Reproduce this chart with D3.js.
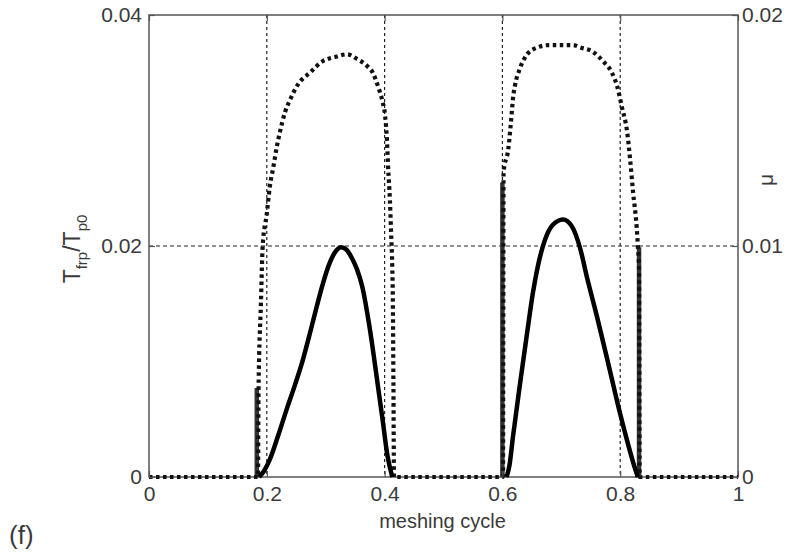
<!DOCTYPE html>
<html>
<head>
<meta charset="utf-8">
<script src="https://cdn.jsdelivr.net/npm/d3@7"></script>
<style>
  body { margin: 0; background: #fff; }
  svg text { font-family: "Liberation Sans", Arial, sans-serif; fill: #3a3a3a; }
</style>
</head>
<body>
<div id="app"></div>
<script>
// tick values
const xTicks = [0, 0.2, 0.4, 0.6, 0.8, 1];
const leftTicks = [0, 0.02, 0.04];
const rightTicks = [0, 0.01, 0.02];
const xGrid = [0.2, 0.4, 0.6, 0.8];
const yGrid = [0.02];

// T_frp / T_p0 (left axis), two meshing humps
const torqueX1 = [0.187, 0.195, 0.205, 0.220, 0.234, 0.248, 0.261, 0.273, 0.285, 0.295, 0.305, 0.315, 0.326, 0.335, 0.345, 0.353, 0.362, 0.375, 0.387, 0.397, 0.405, 0.413];
const torqueY1 = [0, 0.0005, 0.0015, 0.0037, 0.0059, 0.0080, 0.0101, 0.0124, 0.0148, 0.0167, 0.0183, 0.0194, 0.0199, 0.0197, 0.0189, 0.0180, 0.0165, 0.0128, 0.0085, 0.0048, 0.0018, 0];
const torqueX2 = [0.607, 0.612, 0.618, 0.630, 0.642, 0.652, 0.660, 0.672, 0.685, 0.703, 0.718, 0.732, 0.744, 0.761, 0.778, 0.795, 0.812, 0.826, 0.830];
const torqueY2 = [0, 0.0010, 0.0035, 0.0081, 0.0125, 0.0160, 0.0182, 0.0205, 0.0218, 0.0223, 0.0217, 0.0198, 0.0172, 0.0138, 0.0102, 0.0065, 0.0031, 0.0006, 0];

// friction coefficient mu (right axis)
const muX = [0, 0.185, 0.186, 0.190, 0.193, 0.200, 0.205, 0.211, 0.217, 0.222, 0.231, 0.239, 0.253, 0.273, 0.295, 0.319, 0.336, 0.353, 0.370, 0.380, 0.389, 0.396, 0.401, 0.404, 0.406, 0.409, 0.411, 0.413, 0.414, 0.415, 0.416,
  0.601, 0.602, 0.610, 0.616, 0.618, 0.621, 0.630, 0.642, 0.660, 0.680, 0.700, 0.720, 0.732, 0.754, 0.771, 0.786, 0.795, 0.803, 0.812, 0.817, 0.822, 0.828, 0.830, 0.832, 0.833, 1];
const muY = [0, 0, 0.0038, 0.0075, 0.0100, 0.0114, 0.01255, 0.0134, 0.0143, 0.0149, 0.0158, 0.0163, 0.0170, 0.0175, 0.0180, 0.0182, 0.0183, 0.0181, 0.0178, 0.0175, 0.0169, 0.0163, 0.0156, 0.0146, 0.0134, 0.0120, 0.0106, 0.0091, 0.0077, 0.0040, 0,
  0, 0.0132, 0.0142, 0.0158, 0.0164, 0.0169, 0.0177, 0.0183, 0.0186, 0.0187, 0.0187, 0.0187, 0.0186, 0.0184, 0.0180, 0.0175, 0.0169, 0.0160, 0.0149, 0.0137, 0.0123, 0.0108, 0.0100, 0.0090, 0, 0];

// vertical jumps at engagement changes (left axis)
const jumpX = [0.183, 0.600, 0.832];
const jumpTop = [0.0077, 0.0255, 0.0199];

const w = 787;
const h = 552;
const padL = 149, padR = 738, padT = 15, padB = 477;

const x = d3.scaleLinear().domain([0, 1]).range([padL, padR]);
const yL = d3.scaleLinear().domain([0, 0.04]).range([padB, padT]);
const yR = d3.scaleLinear().domain([0, 0.02]).range([padB, padT]);

const svg = d3.select('#app').append('svg')
  .attr('width', w)
  .attr('height', h)
  .style('background', '#fff');

// grid
svg.append('g').selectAll('line').data(xGrid).join('line')
  .attr('x1', d => x(d)).attr('x2', d => x(d))
  .attr('y1', padT).attr('y2', padB)
  .attr('stroke', '#222').attr('stroke-width', 1.2).attr('stroke-dasharray', '3,3');
svg.append('g').selectAll('line').data(yGrid).join('line')
  .attr('x1', padL).attr('x2', padR)
  .attr('y1', d => yL(d)).attr('y2', d => yL(d))
  .attr('stroke', '#222').attr('stroke-width', 1.2).attr('stroke-dasharray', '4,3');

// frame
svg.append('rect')
  .attr('x', padL).attr('y', padT)
  .attr('width', padR - padL).attr('height', padB - padT)
  .attr('fill', 'none').attr('stroke', '#555').attr('stroke-width', 1.5);

const line = d3.line().x(d => x(d[0])).curve(d3.curveMonotoneX);

// jumps
svg.append('g').selectAll('line').data(jumpX).join('line')
  .attr('x1', d => x(d)).attr('x2', d => x(d))
  .attr('y1', yL(0)).attr('y2', (d, i) => yL(jumpTop[i]))
  .attr('stroke', '#333').attr('stroke-width', 4.5);

// mu dotted
svg.append('path')
  .datum(muX.map((d, i) => [d, muY[i]]))
  .attr('d', line.y(d => yR(d[1])))
  .attr('fill', 'none').attr('stroke', '#111').attr('stroke-width', 4.2)
  .attr('stroke-dasharray', '3.5,3.5');

// torque solid
[[torqueX1, torqueY1], [torqueX2, torqueY2]].forEach(([xs, ys]) => {
  svg.append('path')
    .datum(xs.map((d, i) => [d, ys[i]]))
    .attr('d', line.y(d => yL(d[1])))
    .attr('fill', 'none').attr('stroke', '#000').attr('stroke-width', 4.5)
    .attr('stroke-linejoin', 'round');
});

// axes
const fmt = d => d === 0 ? '0' : String(d);
const axB = svg.append('g').attr('transform', 'translate(0,' + padB + ')')
  .call(d3.axisBottom(x).tickValues(xTicks).tickSize(-6).tickPadding(9).tickFormat(fmt));
const axT = svg.append('g').attr('transform', 'translate(0,' + padT + ')')
  .call(d3.axisTop(x).tickValues(xTicks).tickSize(-6).tickFormat(''));
const axL = svg.append('g').attr('transform', 'translate(' + padL + ',0)')
  .call(d3.axisLeft(yL).tickValues(leftTicks).tickSize(-6).tickPadding(7).tickFormat(d => d === 0 ? '0' : d3.format('.2f')(d)));
const axR = svg.append('g').attr('transform', 'translate(' + padR + ',0)')
  .call(d3.axisRight(yR).tickValues(rightTicks).tickSize(-6).tickPadding(4).tickFormat(d => d === 0 ? '0' : d3.format('.2f')(d)));

[axB, axT, axL, axR].forEach(g => {
  g.select('.domain').remove();
  g.selectAll('.tick line').attr('stroke', '#555').attr('stroke-width', 1.2);
  g.selectAll('.tick text').attr('font-size', 21).attr('fill', '#3a3a3a');
});

// labels
svg.append('text')
  .attr('x', (padL + padR) / 2 - 1).attr('y', 528)
  .attr('text-anchor', 'middle').attr('font-size', 20)
  .text('meshing cycle');

const yLab = svg.append('text')
  .attr('transform', 'translate(80,249) rotate(-90)')
  .attr('text-anchor', 'middle').attr('font-size', 23);
yLab.append('tspan').text('T');
yLab.append('tspan').attr('font-size', 15).attr('dy', 7).text('frp');
yLab.append('tspan').attr('dy', -7).text('/T');
yLab.append('tspan').attr('font-size', 15).attr('dy', 7).text('p0');

svg.append('text')
  .attr('transform', 'translate(773,180) rotate(-90)')
  .attr('text-anchor', 'middle').attr('font-size', 21)
  .text('μ');

svg.append('text')
  .attr('x', 9).attr('y', 544)
  .attr('font-size', 26)
  .text('(f)');
</script>
</body>
</html>
